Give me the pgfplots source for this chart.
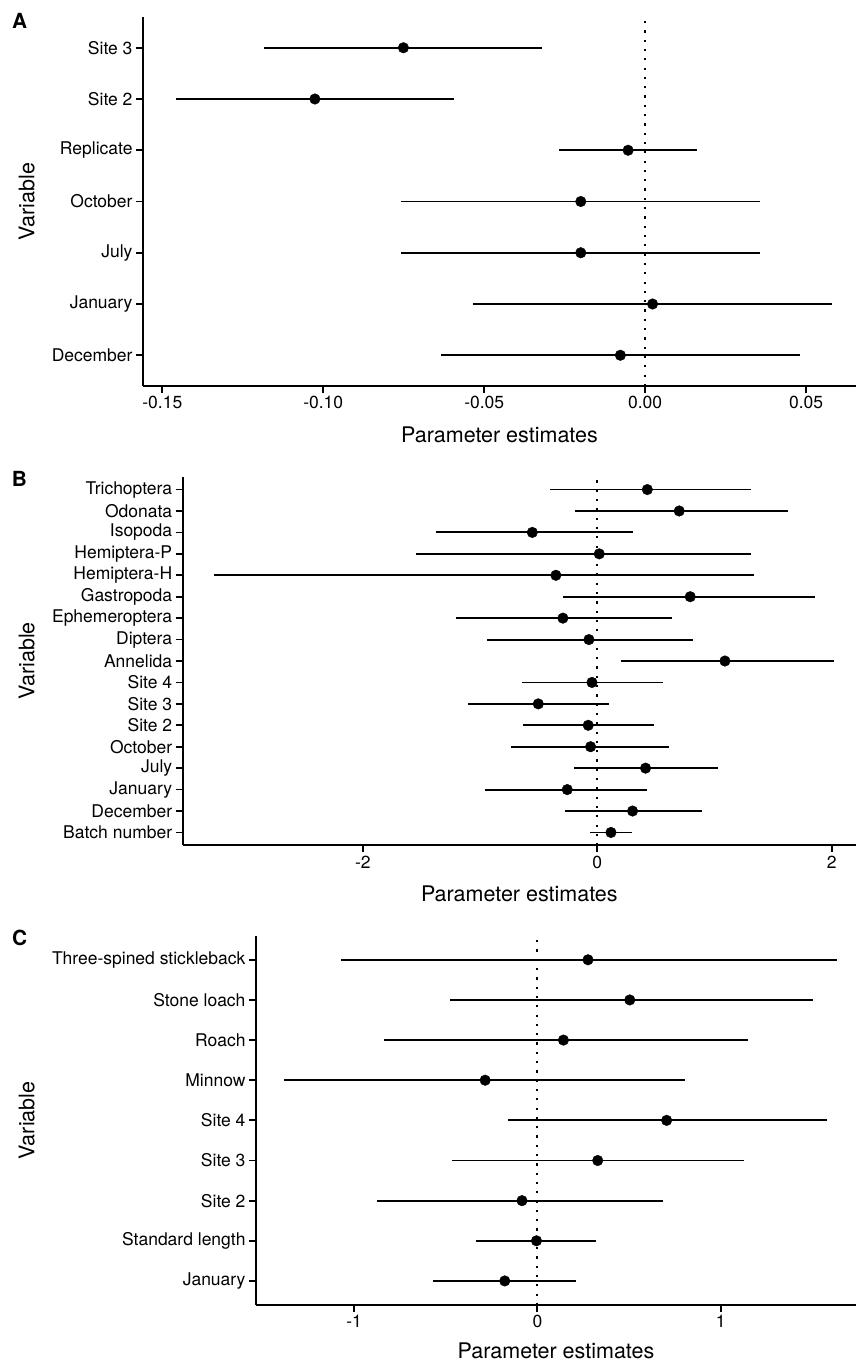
\documentclass[border=0pt]{standalone}
\usepackage{fontspec}
\setmainfont{TeX Gyre Heros}
\usepackage{pgfplots}
\usepackage{pgfplotstable}
\pgfplotsset{compat=1.18}

\newcommand{\tickfont}{\fontsize{17.5}{21}\selectfont}
\newcommand{\labfont}{\fontsize{21.5}{25}\selectfont}
\newcommand{\panfont}{\bfseries\fontsize{20.8}{24}\selectfont}

% estimate and interval per variable, pos 1 = bottom row
\pgfplotstableread{
pos est lo hi
1 -0.0077 -0.0634 0.0481
2  0.0023 -0.0535 0.0581
3 -0.0200 -0.0758 0.0358
4 -0.0200 -0.0758 0.0358
5 -0.0053 -0.0268 0.0162
6 -0.1026 -0.1458 -0.0594
7 -0.0751 -0.1183 -0.0319
}\tabA

\pgfplotstableread{
pos est lo hi
1   0.117 -0.060 0.293
2   0.301 -0.279 0.896
3  -0.256 -0.955 0.426
4   0.412 -0.196 1.026
5  -0.057 -0.736 0.611
6  -0.077 -0.631 0.481
7  -0.503 -1.103 0.097
8  -0.045 -0.643 0.557
9   1.089  0.205 2.019
10 -0.071 -0.944 0.813
11 -0.293 -1.203 0.637
12  0.793 -0.296 1.854
13 -0.353 -3.268 1.339
14  0.017 -1.544 1.308
15 -0.554 -1.379 0.307
16  0.699 -0.188 1.624
17  0.427 -0.407 1.308
}\tabB

\pgfplotstableread{
pos est lo hi
1 -0.178 -0.569 0.211
2 -0.005 -0.333 0.320
3 -0.084 -0.873 0.687
4  0.329 -0.467 1.125
5  0.705 -0.158 1.580
6 -0.285 -1.382 0.805
7  0.142 -0.839 1.149
8  0.504 -0.475 1.502
9  0.276 -1.073 1.633
}\tabC

\pgfplotsset{
  forest/.style={
    scale only axis,
    axis x line*=bottom,
    axis y line*=left,
    axis line style={line width=1.8pt, -},
    tick style={line width=1.8pt, black},
    major tick length=7pt,
    tick align=outside,
    minor tick num=0,
    ymin=0.4,
    ticklabel style={font=\tickfont},
    xlabel={Parameter estimates},
    ylabel={Variable},
  },
  xlab/.style={every axis x label/.style={at={(rel axis cs:0.5,0)}, anchor=base, yshift=-#1, font=\labfont}},
  ylab/.style={every axis y label/.style={at={(rel axis cs:#1,0.5)}, rotate=90, anchor=center, font=\labfont}},
  ci/.style={black, only marks, mark=*, mark size=5.3pt,
    error bars/.cd, x dir=both, x explicit, error mark=none,
    error bar style={line width=1.85pt, black}},
  zero/.style={black, line width=2.2pt, dash pattern=on 2.2pt off 7.1pt},
}

\begin{document}
\begin{tikzpicture}
\useasboundingbox (0,0) rectangle (856pt,-1362pt);

% panel A
\begin{axis}[forest, xlab=56pt, ylab=-0.1631,
  at={(143pt,-17pt)}, anchor=north west,
  width=713pt, height=369pt,
  xmin=-0.156, xmax=0.0655, ymax=7.6,
  xtick={-0.15,-0.10,-0.05,0,0.05},
  xticklabels={-0.15,-0.10,-0.05,0.00,0.05},
  ytick={1,...,7},
  yticklabels={December,January,July,October,Replicate,Site 2,Site 3},
]
\addplot [zero] coordinates {(0,0.4) (0,7.6)};
\addplot [ci] table [x=est, y=pos,
  x error plus expr=\thisrow{hi}-\thisrow{est},
  x error minus expr=\thisrow{est}-\thisrow{lo}] {\tabA};
\end{axis}

% panel B
\begin{axis}[forest, xlab=56pt, ylab=-0.2317,
  at={(182.7pt,-476.7pt)}, anchor=north west,
  width=673.3pt, height=368.6pt,
  xmin=-3.536, xmax=2.207, ymax=17.6,
  xtick={-2,0,2},
  xticklabels={-2,0,2},
  ytick={1,...,17},
  yticklabels={Batch number,December,January,July,October,Site 2,Site 3,Site 4,Annelida,Diptera,Ephemeroptera,Gastropoda,Hemiptera-H,Hemiptera-P,Isopoda,Odonata,Trichoptera},
]
\addplot [zero] coordinates {(0,0.4) (0,17.6)};
\addplot [ci] table [x=est, y=pos,
  x error plus expr=\thisrow{hi}-\thisrow{est},
  x error minus expr=\thisrow{est}-\thisrow{lo}] {\tabB};
\end{axis}

% panel C
\begin{axis}[forest, xlab=53pt, ylab=-0.3822,
  at={(256pt,-935.7pt)}, anchor=north west,
  width=600pt, height=369.3pt,
  xmin=-1.535, xmax=1.738, ymax=9.6,
  xtick={-1,0,1},
  xticklabels={-1,0,1},
  ytick={1,...,9},
  yticklabels={January,Standard length,Site 2,Site 3,Site 4,Minnow,Roach,Stone loach,Three-spined stickleback},
]
\addplot [zero] coordinates {(0,0.4) (0,9.6)};
\addplot [ci] table [x=est, y=pos,
  x error plus expr=\thisrow{hi}-\thisrow{est},
  x error minus expr=\thisrow{est}-\thisrow{lo}] {\tabC};
\end{axis}

\node[anchor=base west, font=\panfont, inner sep=0pt] at (12pt,-28.3pt) {A};
\node[anchor=base west, font=\panfont, inner sep=0pt] at (11.7pt,-486.7pt) {B};
\node[anchor=base west, font=\panfont, inner sep=0pt] at (12pt,-945.7pt) {C};
\end{tikzpicture}
\end{document}
